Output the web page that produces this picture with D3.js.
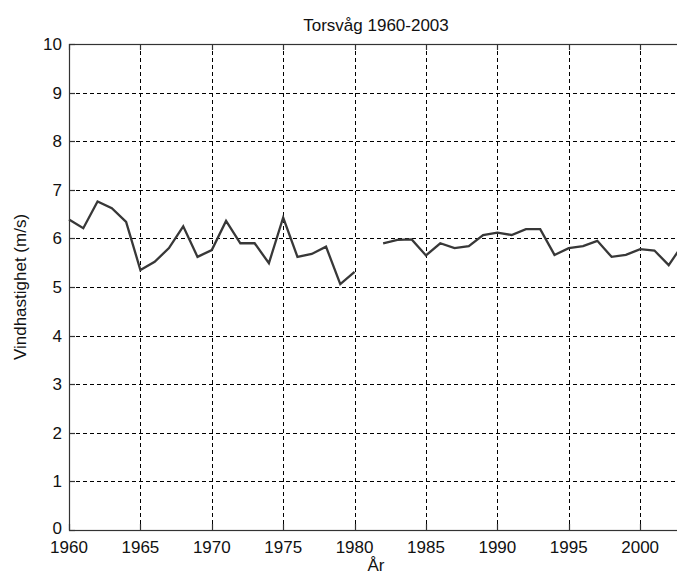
<!DOCTYPE html>
<html><head><meta charset="utf-8">
<script src="https://cdn.jsdelivr.net/npm/d3@7"></script>
<style>
body{margin:0;background:#fff;}
text{font-family:"Liberation Sans",Arial,sans-serif;fill:#111;}
</style></head>
<body><svg id="c" width="677" height="576"></svg>
<script>
const years = d3.range(1960, 2004);
const windSpeed = [6.39,6.21,6.76,6.62,6.34,5.35,5.52,5.80,6.25,5.62,
  5.76,6.36,5.90,5.90,5.49,6.43,5.62,5.68,5.83,5.06,
  5.31,null,5.90,5.97,5.98,5.65,5.90,5.80,5.84,6.07,
  6.12,6.07,6.19,6.19,5.66,5.80,5.84,5.95,5.62,5.66,
  5.78,5.75,5.45,5.88];
const xTicks = [1960,1965,1970,1975,1980,1985,1990,1995,2000];
const yTicks = [0,1,2,3,4,5,6,7,8,9,10];
const titleText = "Torsvåg 1960-2003";
const xLabel = "År";
const yLabel = "Vindhastighet (m/s)";

const svg = d3.select("#c");
const m = {left:69, top:44, right:683, bottom:530};
const x = d3.scaleLinear().domain([1960,2003]).range([m.left,m.right]);
const y = d3.scaleLinear().domain([0,10]).range([m.bottom,m.top]);
const fs = 17;

// grid
const g = svg.append("g");
g.selectAll(".gx").data(xTicks.slice(1)).join("line")
  .attr("x1",d=>Math.round(x(d))+0.5).attr("x2",d=>Math.round(x(d))+0.5)
  .attr("y1",m.top).attr("y2",m.bottom)
  .attr("stroke","#000").attr("stroke-width",1).attr("stroke-dasharray","4,3");
g.selectAll(".gy").data(yTicks.slice(1,-1)).join("line")
  .attr("x1",m.left).attr("x2",m.right)
  .attr("y1",d=>Math.round(y(d))+0.5).attr("y2",d=>Math.round(y(d))+0.5)
  .attr("stroke","#000").attr("stroke-width",1).attr("stroke-dasharray","4,3");

// axes box
svg.append("rect").attr("x",m.left+0.5).attr("y",m.top+0.5)
  .attr("width",m.right-m.left).attr("height",m.bottom-m.top)
  .attr("fill","none").attr("stroke","#333").attr("stroke-width",1.2);

// inward ticks
const tk = svg.append("g").attr("stroke","#333").attr("stroke-width",1.2);
xTicks.forEach(d=>{
  const xx = Math.round(x(d))+0.5;
  tk.append("line").attr("x1",xx).attr("x2",xx).attr("y1",m.bottom).attr("y2",m.bottom-6);
  tk.append("line").attr("x1",xx).attr("x2",xx).attr("y1",m.top).attr("y2",m.top+6);
});
yTicks.forEach(d=>{
  const yy = Math.round(y(d))+0.5;
  tk.append("line").attr("x1",m.left).attr("x2",m.left+6).attr("y1",yy).attr("y2",yy);
});

// tick labels
svg.selectAll(".xl").data(xTicks).join("text")
  .attr("x",d=>x(d)).attr("y",m.bottom+23).attr("text-anchor","middle")
  .attr("font-size",fs).text(d=>d);
svg.selectAll(".yl").data(yTicks).join("text")
  .attr("x",m.left-7).attr("y",d=>y(d)+(d===0?4:6)).attr("text-anchor","end")
  .attr("font-size",fs).text(d=>d);

// line
const line = d3.line().defined(d=>d[1]!=null).x(d=>x(d[0])).y(d=>y(d[1]));
svg.append("path").datum(years.map((yr,i)=>[yr,windSpeed[i]]))
  .attr("d",line).attr("fill","none").attr("stroke","#383838")
  .attr("stroke-width",2.3).attr("stroke-linejoin","miter");

// title & labels
svg.append("text").attr("x",(m.left+m.right)/2).attr("y",31)
  .attr("text-anchor","middle").attr("font-size",fs).text(titleText);
svg.append("text").attr("x",(m.left+m.right)/2).attr("y",571)
  .attr("text-anchor","middle").attr("font-size",fs).text(xLabel);
svg.append("text").attr("transform",`translate(26,${(m.top+m.bottom)/2}) rotate(-90)`)
  .attr("text-anchor","middle").attr("font-size",fs).text(yLabel);
</script></body></html>
